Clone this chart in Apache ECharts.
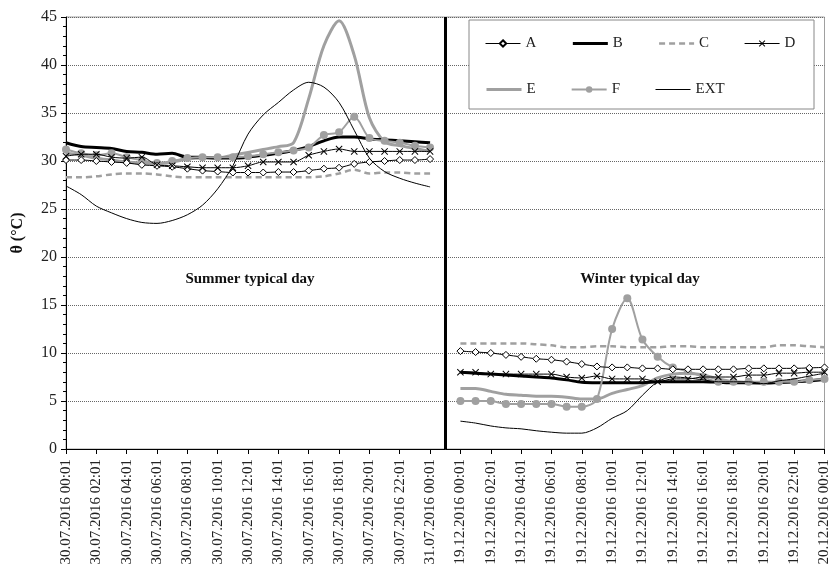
<!DOCTYPE html>
<html>
<head>
<meta charset="utf-8">
<script src="https://cdn.jsdelivr.net/npm/echarts@6/dist/echarts.min.js"></script>
<style>html,body{margin:0;padding:0;background:#fff}#c{width:832px;height:572px}</style>
</head>
<body>
<div id="c"></div>
<script>
const summerLabels = ["30.07.2016 00:01","30.07.2016 01:01","30.07.2016 02:01","30.07.2016 03:01","30.07.2016 04:01","30.07.2016 05:01","30.07.2016 06:01","30.07.2016 07:01","30.07.2016 08:01","30.07.2016 09:01","30.07.2016 10:01","30.07.2016 11:01","30.07.2016 12:01","30.07.2016 13:01","30.07.2016 14:01","30.07.2016 15:01","30.07.2016 16:01","30.07.2016 17:01","30.07.2016 18:01","30.07.2016 19:01","30.07.2016 20:01","30.07.2016 21:01","30.07.2016 22:01","30.07.2016 23:01","31.07.2016 00:01"];
const winterLabels = ["19.12.2016 00:01","19.12.2016 01:01","19.12.2016 02:01","19.12.2016 03:01","19.12.2016 04:01","19.12.2016 05:01","19.12.2016 06:01","19.12.2016 07:01","19.12.2016 08:01","19.12.2016 09:01","19.12.2016 10:01","19.12.2016 11:01","19.12.2016 12:01","19.12.2016 13:01","19.12.2016 14:01","19.12.2016 15:01","19.12.2016 16:01","19.12.2016 17:01","19.12.2016 18:01","19.12.2016 19:01","19.12.2016 20:01","19.12.2016 21:01","19.12.2016 22:01","19.12.2016 23:01","20.12.2016 00:01"];
const gapLabel = [""];

const summerA = [30.1,30.1,30.0,29.9,29.8,29.6,29.5,29.4,29.2,29.0,28.9,28.8,28.8,28.8,28.85,28.85,29.0,29.2,29.3,29.7,29.9,30.0,30.1,30.1,30.2];
const winterA = [10.2,10.1,10.0,9.8,9.6,9.4,9.3,9.1,8.85,8.6,8.5,8.5,8.4,8.4,8.3,8.3,8.3,8.3,8.3,8.4,8.4,8.4,8.4,8.45,8.5];
const summerB = [31.9,31.5,31.4,31.3,31.0,30.9,30.7,30.8,30.4,30.4,30.3,30.3,30.4,30.6,30.8,31.1,31.5,32.1,32.5,32.5,32.3,32.2,32.1,32.0,31.9];
const winterB = [8.0,7.9,7.8,7.7,7.6,7.5,7.4,7.2,6.95,6.9,6.9,6.9,6.9,7.0,7.0,7.0,7.0,6.95,6.9,6.9,6.9,6.95,7.0,7.1,7.3];
const summerC = [28.3,28.3,28.4,28.6,28.7,28.7,28.6,28.4,28.3,28.3,28.3,28.3,28.3,28.3,28.3,28.3,28.3,28.4,28.7,29.1,28.7,28.8,28.8,28.7,28.7];
const winterC = [11.0,11.0,11.0,11.0,11.0,10.9,10.8,10.6,10.6,10.7,10.7,10.6,10.6,10.6,10.7,10.7,10.6,10.6,10.6,10.6,10.6,10.8,10.8,10.7,10.6];
const summerD = [30.5,30.7,30.7,30.4,30.3,30.4,29.6,29.5,29.4,29.3,29.3,29.3,29.5,29.9,29.9,29.9,30.6,31.0,31.25,31.0,31.0,31.0,31.0,31.0,31.0];
const winterD = [8.0,8.0,7.8,7.8,7.8,7.8,7.8,7.5,7.4,7.6,7.3,7.3,7.3,7.0,7.3,7.3,7.5,7.5,7.5,7.7,7.7,7.9,7.9,8.0,8.0];
const summerE = [30.8,30.6,30.3,30.1,29.9,29.8,29.7,29.9,30.2,30.3,30.3,30.6,30.9,31.2,31.5,31.9,36.5,42.0,44.6,41.0,34.5,32.0,31.6,31.3,31.0];
const winterE = [6.3,6.3,6.0,5.7,5.6,5.5,5.5,5.4,5.2,5.2,5.8,6.2,6.6,7.4,7.8,7.9,7.7,7.3,7.0,6.9,6.8,6.9,7.0,7.1,7.2];
const summerF = [31.2,30.8,30.6,30.8,30.4,30.1,29.8,30.0,30.3,30.4,30.4,30.4,30.5,30.7,30.9,31.1,31.4,32.7,33.0,34.6,32.4,32.1,31.9,31.6,31.4];
const winterF = [5.0,5.0,5.0,4.7,4.7,4.7,4.7,4.4,4.4,5.2,12.5,15.7,11.4,9.6,8.5,8.1,7.5,7.0,7.0,7.0,7.0,7.0,7.0,7.2,7.3];
const summerEXT = [27.4,26.5,25.3,24.6,24.0,23.6,23.5,23.8,24.4,25.4,27.1,29.5,32.8,34.8,36.1,37.4,38.2,37.7,36.1,33.2,30.3,28.9,28.2,27.7,27.3];
const winterEXT = [2.9,2.7,2.4,2.2,2.1,1.9,1.75,1.65,1.65,2.2,3.2,4.0,5.6,7.0,7.5,7.4,7.2,7.0,7.0,7.0,6.8,7.1,7.3,7.6,7.9];

const yTicks = [0,5,10,15,20,25,30,35,40,45];
const seriesNames = ["A","B","C","D","E","F","EXT"];
const annotations = ["Summer typical day","Winter typical day"];
const yName = "θ (°C)";

const categories = summerLabels.concat(gapLabel, winterLabels);
const join = (s, w) => s.concat([null], w);
const FONT = "Liberation Serif";
const GRAY = "#a0a0a0";
const xPath = 'path://M0,1L1,0L5,4L9,0L10,1L6,5L10,9L9,10L5,6L1,10L0,9L4,5Z';

const styles = {
  A:{symbol:'diamond', symbolSize:7, lineStyle:{color:'#000',width:1,type:'solid'}, itemStyle:{color:'#fff',borderColor:'#000',borderWidth:1}, z:4},
  B:{symbol:'none', lineStyle:{color:'#000',width:3,type:'solid'}, itemStyle:{color:'#000'}, z:3},
  C:{symbol:'none', lineStyle:{color:GRAY,width:2.5,type:[6,4]}, itemStyle:{color:GRAY}, z:2},
  D:{symbol:xPath, symbolSize:7, lineStyle:{color:'#000',width:1,type:'solid'}, itemStyle:{color:'#000'}, z:4},
  E:{symbol:'none', lineStyle:{color:GRAY,width:3,type:'solid'}, itemStyle:{color:GRAY}, z:2},
  F:{symbol:'circle', symbolSize:8, lineStyle:{color:GRAY,width:2,type:'solid'}, itemStyle:{color:GRAY}, z:3},
  EXT:{symbol:'none', lineStyle:{color:'#000',width:1,type:'solid'}, itemStyle:{color:'#000'}, z:5}
};
const dataMap = {
  A:join(summerA,winterA), B:join(summerB,winterB), C:join(summerC,winterC), D:join(summerD,winterD),
  E:join(summerE,winterE), F:join(summerF,winterF), EXT:join(summerEXT,winterEXT)
};

const series = seriesNames.map(n => Object.assign({type:'line', name:n, data:dataMap[n], smooth:0.3, connectNulls:false, showAllSymbol:true, animation:false}, styles[n]));
series[0].markLine = {silent:true, symbol:['none','none'], label:{show:false}, lineStyle:{color:'#000',width:3,type:'solid'}, data:[{xAxis:25}]};

const legendItem = n => {
  const s = styles[n];
  const it = {name:n, lineStyle:Object.assign({}, s.lineStyle)};
  if (s.symbol === 'none') it.itemStyle = {opacity:0};
  return it;
};
const legendCommon = {itemWidth:35, itemHeight:8, itemGap:35, textStyle:{fontFamily:FONT,fontSize:15,color:'#222'}, z:10, selectedMode:false};

const chart = echarts.init(document.getElementById('c'), null, {renderer:'canvas'});
chart.setOption({
  animation:false,
  backgroundColor:'#fff',
  grid:{left:66, right:4, top:17, bottom:123, show:true, borderColor:GRAY, borderWidth:1},
  legend:[
    Object.assign({}, legendCommon, {data:seriesNames.slice(0,4).map(legendItem), left:480, top:31}),
    Object.assign({}, legendCommon, {data:seriesNames.slice(4).map(legendItem), left:480, top:77})
  ],
  graphic:[
    {type:'rect', shape:{x:469, y:20, width:345, height:89}, style:{fill:'#fff', stroke:'#888', lineWidth:1}, z:8},
    {type:'text', x:250, y:279, style:{text:annotations[0], font:'bold 15px "Liberation Serif"', fill:'#111', textAlign:'center', textVerticalAlign:'middle'}, z:9},
    {type:'text', x:640, y:279, style:{text:annotations[1], font:'bold 15px "Liberation Serif"', fill:'#111', textAlign:'center', textVerticalAlign:'middle'}, z:9}
  ],
  xAxis:{type:'category', data:categories, boundaryGap:false,
    axisLine:{lineStyle:{color:'#000',width:1}},
    axisTick:{show:true, interval:1, length:5, lineStyle:{color:'#000'}},
    axisLabel:{interval:1, rotate:90, margin:10, fontFamily:FONT, fontSize:15, color:'#222'},
    splitLine:{show:false}},
  yAxis:{type:'value', min:yTicks[0], max:yTicks[yTicks.length-1], interval:5,
    name:yName, nameLocation:'middle', nameGap:40, nameRotate:90,
    nameTextStyle:{fontFamily:FONT, fontSize:16, fontWeight:'bold', color:'#111'},
    axisLine:{show:true, lineStyle:{color:'#000',width:1}},
    axisTick:{show:true, length:5, lineStyle:{color:'#000'}},
    minorTick:{show:true, splitNumber:5, length:3, lineStyle:{color:'#000'}},
    axisLabel:{fontFamily:FONT, fontSize:16, color:'#222', margin:9},
    splitLine:{show:true, lineStyle:{color:'#666', width:1, type:[1,1]}}},
  series:series
});
</script>
</body>
</html>
